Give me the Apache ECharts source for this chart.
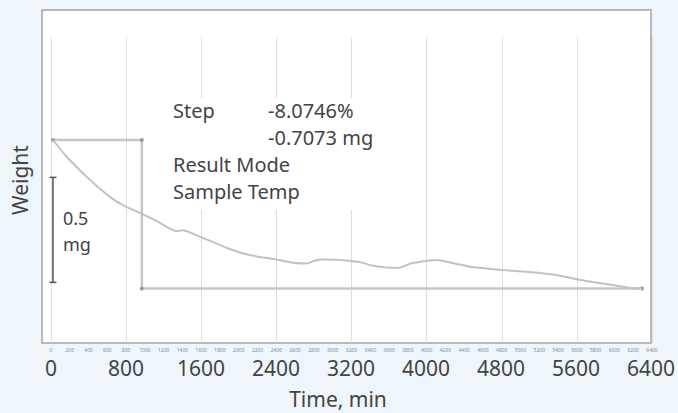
<!DOCTYPE html>
<html>
<head>
<meta charset="utf-8">
<script src="https://cdn.jsdelivr.net/npm/echarts@6/dist/echarts.min.js"></script>
<style>
html,body{margin:0;padding:0;background:#eef6fc;}
#c{width:678px;height:413px;}
</style>
</head>
<body>
<div id="c"></div>
<script>
// Weight curve (relative weight change in mg vs time in min)
var timeMin = [21,170,383,628,767,969,1129,1342,1406,1587,1906,2119,2406,2577,2726,2811,2897,3078,3291,3429,3610,3717,3780,3855,4004,4111,4281,4494,4813,5101,5388,5633,5921,6166,6304];
var weightMg = [0,-0.081,-0.176,-0.271,-0.310,-0.352,-0.386,-0.434,-0.430,-0.460,-0.519,-0.548,-0.569,-0.584,-0.588,-0.575,-0.569,-0.571,-0.581,-0.598,-0.608,-0.608,-0.598,-0.586,-0.576,-0.572,-0.586,-0.605,-0.619,-0.629,-0.643,-0.665,-0.686,-0.703,-0.709];
// Step evaluation line
var stepTime = [21,969,969,6304];
var stepWeight = [0,0,-0.7073,-0.7073];
// Scale bar (0.5 mg)
var scaleTime = [21,21];
var scaleWeight = [-0.178,-0.678];
// Axis ticks
var xMin = 0, xMax = 6400, xInterval = 800, xMinorInterval = 200;
var annotationLines = [["Step","-8.0746%"],["","-0.7073 mg"],["Result Mode",""],["Sample Temp",""]];
var scaleLabelLines = ["0.5","mg"];

var FONT = "Noto Sans";
var chart = echarts.init(document.getElementById('c'), null, {renderer:'svg'});

var graphics = [
  {type:'rect', z:-10, shape:{x:42,y:10,width:609,height:333}, style:{fill:'#ffffff', stroke:'#a4a4a4', lineWidth:1.5}},
  {type:'rect', z:5, shape:{x:170,y:98,width:213,height:112}, style:{fill:'#ffffff'}},
  {type:'text', z:6, x:20, y:180, rotation:Math.PI/2, style:{text:'Weight', font:'21px "Noto Sans"', fill:'#444', textAlign:'center', textVerticalAlign:'middle'}},
  {type:'text', z:6, x:338, y:399, style:{text:'Time, min', font:'21px "Noto Sans"', fill:'#444', textAlign:'center', textVerticalAlign:'middle'}},
  {type:'text', z:6, x:63, y:218, style:{text:scaleLabelLines[0], font:'18px "Noto Sans"', fill:'#444', textAlign:'left', textVerticalAlign:'middle'}},
  {type:'text', z:6, x:63, y:244, style:{text:scaleLabelLines[1], font:'18px "Noto Sans"', fill:'#444', textAlign:'left', textVerticalAlign:'middle'}}
];
var ys = [110, 137, 164, 191];
annotationLines.forEach(function(l, i){
  if (l[0]) graphics.push({type:'text', z:6, x:173, y:ys[i], style:{text:l[0], font:'20px "Noto Sans"', fill:'#444', textAlign:'left', textVerticalAlign:'middle'}});
  if (l[1]) graphics.push({type:'text', z:6, x:268, y:ys[i], style:{text:l[1], font:'20px "Noto Sans"', fill:'#444', textAlign:'left', textVerticalAlign:'middle'}});
});

function zip(a,b){return a.map(function(v,i){return [v,b[i]];});}
function plain(v){return String(v);}

chart.setOption({
  animation:false,
  backgroundColor:'#eef6fc',
  textStyle:{fontFamily:FONT},
  grid:[
    {left:51, right:26, top:14, bottom:63},
    {left:51, right:26, top:37, bottom:70}
  ],
  xAxis:[
    {gridIndex:0, type:'value', min:xMin, max:xMax, interval:xInterval,
     axisLine:{show:false}, axisTick:{show:false}, splitLine:{show:false},
     axisLabel:{fontSize:21, color:'#444', margin:7, fontFamily:FONT, formatter:plain}},
    {gridIndex:1, type:'value', min:xMin, max:xMax, interval:xInterval,
     axisLine:{show:false}, axisTick:{show:false}, axisLabel:{show:false},
     splitLine:{show:true, lineStyle:{color:'#dedede', width:1}}},
    {gridIndex:1, type:'value', min:xMin, max:xMax, interval:xMinorInterval, position:'bottom',
     axisLine:{show:false}, axisTick:{show:false}, splitLine:{show:false},
     axisLabel:{fontSize:5, color:'#8a8a8a', margin:4, fontFamily:FONT, formatter:plain}}
  ],
  yAxis:[
    {gridIndex:0, type:'value', min:-1, max:0.6, show:false},
    {gridIndex:1, type:'value', min:0, max:1, show:false}
  ],
  series:[
    {type:'line', xAxisIndex:0, yAxisIndex:0, data:zip(stepTime, stepWeight), z:3,
     symbol:'circle', symbolSize:4, itemStyle:{color:'#9a9a9a'},
     lineStyle:{color:'#c6c6c6', width:2.5}},
    {type:'line', xAxisIndex:0, yAxisIndex:0, data:zip(timeMin, weightMg), z:4,
     symbol:'none', smooth:0.2, lineStyle:{color:'#c2c2c2', width:2}},
    {type:'line', xAxisIndex:0, yAxisIndex:0, data:zip(scaleTime, scaleWeight), z:4,
     symbol:'rect', symbolSize:[7,1.5], itemStyle:{color:'#555'},
     lineStyle:{color:'#555', width:1.5}}
  ],
  graphic:graphics
});
</script>
</body>
</html>
